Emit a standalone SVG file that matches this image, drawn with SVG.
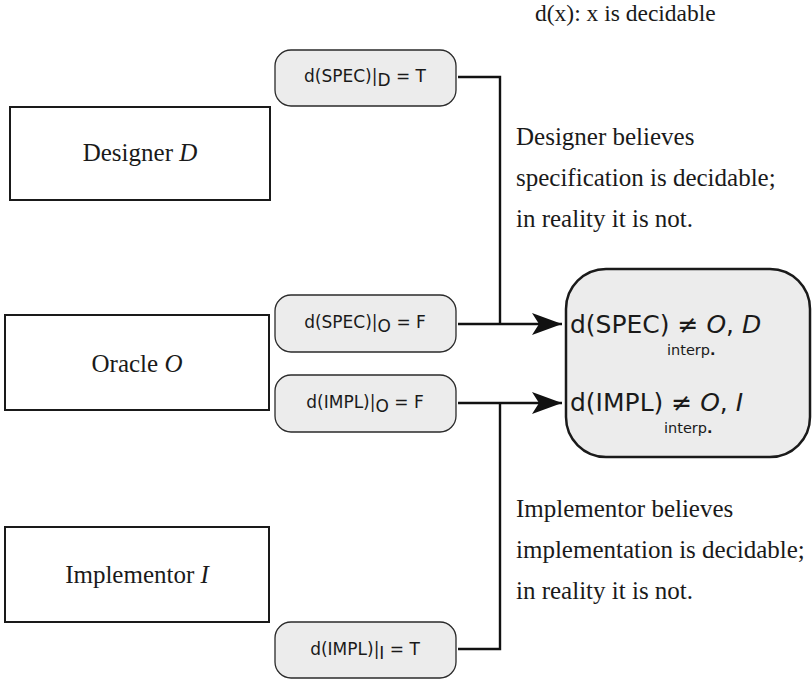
<svg xmlns="http://www.w3.org/2000/svg" width="812" height="681" viewBox="0 0 812 681">
  <style>
    .actor { fill: #ffffff; stroke: #1a1a1a; stroke-width: 2; }
    .claim { fill: #ececec; stroke: #2a2a2a; stroke-width: 1.3; }
    .verdict { fill: #ececec; stroke: #1a1a1a; stroke-width: 2.5; }
    .serif { font-family: "Liberation Serif", "Times New Roman", serif; fill: #1a1a1a; }
    .sans { font-family: "DejaVu Sans", "Liberation Sans", sans-serif; fill: #1a1a1a; }
    .note { font-size: 25px; }
    .pill { font-size: 17px; }
    .big { font-size: 25px; }
    .sub { font-size: 14.5px; }
    .wire { fill: none; stroke: #111111; stroke-width: 2.4; }
  </style>
  <defs>
    <marker id="head" markerUnits="userSpaceOnUse" markerWidth="32" markerHeight="24" refX="30" refY="12" orient="auto">
      <path d="M0,1 L30,12 L0,23 L7,12 Z" fill="#111111"/>
    </marker>
  </defs>

  <rect width="812" height="681" fill="#ffffff"/>

  <text class="serif" x="535" y="21" font-size="23.5">d(x): x is decidable</text>

  <!-- actors -->
  <g id="designer">
    <rect class="actor" x="10" y="107" width="260" height="93"/>
    <text class="serif note" x="140" y="161" text-anchor="middle">Designer <tspan font-style="italic">D</tspan></text>
  </g>
  <g id="oracle">
    <rect class="actor" x="5" y="315" width="264" height="95"/>
    <text class="serif note" x="137" y="372" text-anchor="middle">Oracle <tspan font-style="italic">O</tspan></text>
  </g>
  <g id="implementor">
    <rect class="actor" x="5" y="527" width="264" height="95"/>
    <text class="serif note" x="137" y="583" text-anchor="middle">Implementor <tspan font-style="italic">I</tspan></text>
  </g>

  <!-- claims -->
  <g id="spec-d">
    <rect class="claim" x="275" y="50" width="181" height="56" rx="16"/>
    <text class="sans pill" x="365" y="82" text-anchor="middle">d(SPEC)|<tspan dy="4">D</tspan><tspan dy="-4"> = T</tspan></text>
  </g>
  <g id="spec-o">
    <rect class="claim" x="275" y="295" width="181" height="57" rx="16"/>
    <text class="sans pill" x="365" y="328" text-anchor="middle">d(SPEC)|<tspan dy="4">O</tspan><tspan dy="-4"> = F</tspan></text>
  </g>
  <g id="impl-o">
    <rect class="claim" x="275" y="375" width="181" height="57" rx="16"/>
    <text class="sans pill" x="365" y="408" text-anchor="middle">d(IMPL)|<tspan dy="4">O</tspan><tspan dy="-4"> = F</tspan></text>
  </g>
  <g id="impl-i">
    <rect class="claim" x="275" y="622" width="181" height="56" rx="16"/>
    <text class="sans pill" x="365" y="655" text-anchor="middle">d(IMPL)|<tspan dy="4">I</tspan><tspan dy="-4"> = T</tspan></text>
  </g>

  <!-- verdict -->
  <g id="verdict">
    <rect class="verdict" x="566" y="269" width="244" height="188" rx="40"/>
    <text class="sans big" x="570" y="333">d(SPEC) ≠ <tspan font-style="italic">O</tspan>, <tspan font-style="italic">D</tspan></text>
    <text class="sans sub" x="667" y="355">interp<tspan font-weight="bold">.</tspan></text>
    <text class="sans big" x="570" y="411">d(IMPL) ≠ <tspan font-style="italic">O</tspan>, <tspan font-style="italic">I</tspan></text>
    <text class="sans sub" x="664" y="433">interp<tspan font-weight="bold">.</tspan></text>
  </g>

  <!-- explanations -->
  <g id="designer-note">
    <text class="serif note" x="516" y="145">Designer believes</text>
    <text class="serif note" x="516" y="186">specification is decidable;</text>
    <text class="serif note" x="516" y="227">in reality it is not.</text>
  </g>
  <g id="implementor-note">
    <text class="serif note" x="516" y="517">Implementor believes</text>
    <text class="serif note" x="516" y="558">implementation is decidable;</text>
    <text class="serif note" x="516" y="599">in reality it is not.</text>
  </g>

  <!-- connectors -->
  <g id="connectors">
    <path class="wire" d="M458,77 H500 V324"/>
    <path class="wire" d="M458,324 H562" marker-end="url(#head)"/>
    <path class="wire" d="M458,403 H562" marker-end="url(#head)"/>
    <path class="wire" d="M458,649 H500 V403"/>
  </g>
</svg>
